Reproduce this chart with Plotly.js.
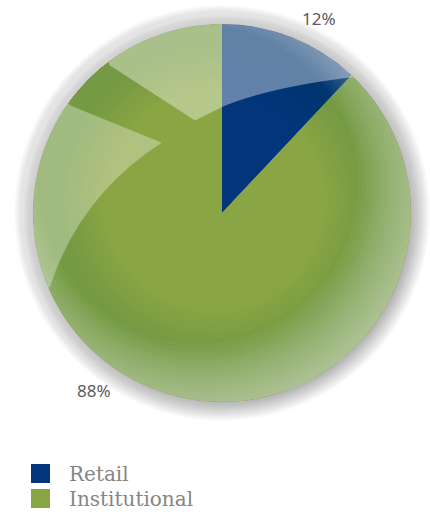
<!DOCTYPE html>
<html>
<head>
<meta charset="utf-8">
<script src="https://cdn.plot.ly/plotly-3.0.1.min.js"></script>
<style>html,body{margin:0;padding:0;background:#fff}#chart{width:430px;height:517px}</style>
</head>
<body>
<div id="chart"></div>
<script>
// ---- data ----
const labels = ['Retail', 'Institutional'];
const values = [12, 88];
const colors = ['#02357a', '#8aa543'];

// ---- layout helpers (pixel -> paper) ----
const W = 430, H = 517;
const px = x => x / W;
const py = y => 1 - y / H;
const CX = 222, CY = 213, R = 189;

function circlePath(cx, cy, r, n) {
  n = n || 120;
  let s = '';
  for (let i = 0; i <= n; i++) {
    const a = 2 * Math.PI * i / n;
    const x = cx + r * Math.cos(a), y = cy - r * Math.sin(a);
    s += (i === 0 ? 'M' : 'L') + px(x).toFixed(5) + ',' + py(y).toFixed(5);
  }
  return s + 'Z';
}
function arcPts(cx, cy, r, a0, a1, n) {
  n = n || 40;
  let s = '';
  for (let i = 0; i <= n; i++) {
    const a = (a0 + (a1 - a0) * i / n) * Math.PI / 180;
    s += 'L' + px(cx + r * Math.cos(a)).toFixed(5) + ',' + py(cy - r * Math.sin(a)).toFixed(5);
  }
  return s;
}
const P = (x, y) => px(x).toFixed(5) + ',' + py(y).toFixed(5);

const shapes = [];
// soft grey shadow ring behind the pie
for (let r = 208; r >= 190; r -= 1) {
  shapes.push({type: 'circle', xref: 'paper', yref: 'paper', layer: 'below',
    x0: px(CX - r), x1: px(CX + r), y0: py(CY + r), y1: py(CY - r),
    fillcolor: 'rgba(0,0,0,0.014)', line: {width: 0}});
}
// subtle darker ring (smooth)
for (let rr = 110; rr <= 150; rr += 4) {
  shapes.push({type: 'path', xref: 'paper', yref: 'paper', layer: 'above', fillrule: 'evenodd',
    path: circlePath(CX, CY, R) + circlePath(214, 200, rr),
    fillcolor: 'rgba(30,110,90,0.012)', line: {width: 0}});
}
// lighter rim toward bottom-right (smooth)
for (let rr = 160; rr <= 226; rr += 4) {
  shapes.push({type: 'path', xref: 'paper', yref: 'paper', layer: 'above', fillrule: 'evenodd',
    path: circlePath(CX, CY, R) + circlePath(198, 184, rr),
    fillcolor: 'rgba(255,255,255,0.036)', line: {width: 0}});
}
// gloss highlight - top region
shapes.push({type: 'path', xref: 'paper', yref: 'paper', layer: 'above',
  path: 'M' + P(110, 65.5) + arcPts(CX, CY, R, 127, 46) +
        'Q' + P(268, 87.5) + ' ' + P(222, 107) + 'L' + P(195, 120.5) + 'Z',
  fillcolor: 'rgba(255,255,255,0.38)', line: {width: 0}});
// gloss highlight - left region
shapes.push({type: 'path', xref: 'paper', yref: 'paper', layer: 'above',
  path: 'M' + P(71.7, 106) + 'L' + P(161.7, 142.7) +
        'Q' + P(80, 195) + ' ' + P(50, 286.7) + arcPts(CX, CY, R, 203.2, 144.6) + 'Z',
  fillcolor: 'rgba(255,255,255,0.32)', line: {width: 0}});

// custom legend squares
const legTop = [464, 489];
labels.forEach((l, i) => {
  shapes.push({type: 'rect', xref: 'paper', yref: 'paper', layer: 'above',
    x0: px(31), x1: px(50), y0: py(legTop[i] + 19), y1: py(legTop[i]),
    fillcolor: colors[i], line: {width: 0}});
});

const total = values.reduce((a, b) => a + b, 0);
const pct = values.map(v => Math.round(v / total * 100) + '%');
const labelPos = [[319, 18], [94, 390]];

const annotations = [];
pct.forEach((t, i) => {
  annotations.push({xref: 'paper', yref: 'paper', x: px(labelPos[i][0]), y: py(labelPos[i][1]),
    text: t, showarrow: false, xanchor: 'center', yanchor: 'middle',
    font: {family: 'Noto Sans, sans-serif', size: 17, color: '#5a5a5a'}});
});
labels.forEach((l, i) => {
  annotations.push({xref: 'paper', yref: 'paper', x: px(67), y: py(legTop[i] + 10),
    text: l, showarrow: false, xanchor: 'left', yanchor: 'middle',
    font: {family: 'DejaVu Serif, serif', size: 20, color: '#858585'}});
});

const trace = {
  type: 'pie', labels: labels, values: values, sort: false, direction: 'clockwise', rotation: 0,
  marker: {colors: colors, line: {width: 0}}, textinfo: 'none', hoverinfo: 'none', showlegend: false,
  domain: {x: [px(CX - R), px(CX + R)], y: [py(CY + R), py(CY - R)]}
};

Plotly.newPlot('chart', [trace], {
  width: W, height: H, margin: {l: 0, r: 0, t: 0, b: 0},
  paper_bgcolor: '#fff', plot_bgcolor: '#fff', showlegend: false,
  shapes: shapes, annotations: annotations
}, {displayModeBar: false, staticPlot: true});
</script>
</body>
</html>
